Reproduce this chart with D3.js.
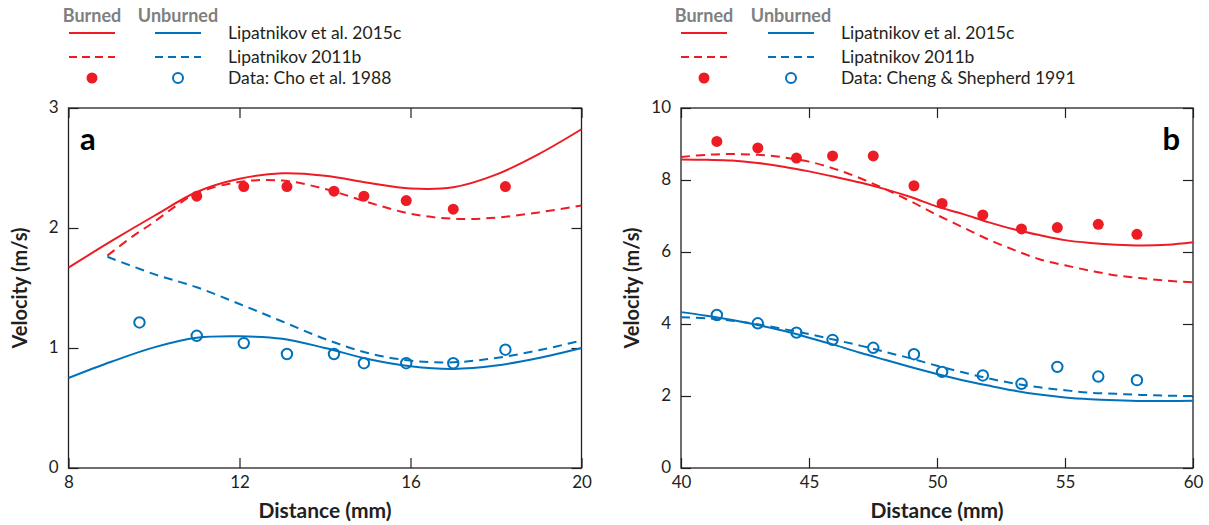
<!DOCTYPE html>
<html>
<head>
<meta charset="utf-8">
<script src="https://cdn.jsdelivr.net/npm/d3@7"></script>
<style>
  body { margin: 0; background: #fff; }
  text { font-family: Lato, "Open Sans", sans-serif; }
</style>
</head>
<body>
<svg id="chart" width="1209" height="525"></svg>
<script>
// ---- panel a: Cho et al. 1988 ----
const aCurveX = [8, 9, 10, 11, 12, 13, 14, 15, 16, 17, 18, 19, 20];
const aBurned2015 = [1.67, 1.89, 2.10, 2.30, 2.41, 2.456, 2.436, 2.378, 2.33, 2.34, 2.445, 2.616, 2.823];
const aUnburned2015 = [0.75, 0.885, 1.005, 1.085, 1.097, 1.077, 1.0, 0.909, 0.848, 0.826, 0.854, 0.917, 1.0];
const aBurned2011X = [8.91, 9.5, 10, 10.5, 11, 12, 13, 14, 15, 16, 17, 18, 19, 20];
const aBurned2011 = [1.77, 1.93, 2.05, 2.18, 2.29, 2.384, 2.395, 2.326, 2.215, 2.119, 2.077, 2.086, 2.13, 2.188];
const aUnburned2011X = [8.91, 10, 11, 12, 13, 14, 15, 16, 17, 18, 19, 20];
const aUnburned2011 = [1.76, 1.616, 1.506, 1.367, 1.221, 1.075, 0.958, 0.895, 0.881, 0.917, 0.981, 1.063];
const aBurnedDataX = [11.0, 12.1, 13.11, 14.21, 14.91, 15.9, 17.0, 18.22];
const aBurnedData = [2.265, 2.345, 2.345, 2.307, 2.265, 2.229, 2.157, 2.345];
const aUnburnedDataX = [9.66, 11.0, 12.1, 13.11, 14.21, 14.91, 15.9, 17.0, 18.22];
const aUnburnedData = [1.213, 1.102, 1.041, 0.95, 0.95, 0.873, 0.873, 0.873, 0.986];
const aXTicks = [8, 12, 16, 20];
const aYTicks = [0, 1, 2, 3];

// ---- panel b: Cheng & Shepherd 1991 ----
const bCurveX = [40, 41, 42, 43, 44, 45, 46, 47, 48, 49, 50, 51, 52, 53, 54, 55, 56, 57, 58, 59, 60];
const bBurned2015 = [8.57, 8.56, 8.54, 8.47, 8.37, 8.24, 8.09, 7.93, 7.74, 7.52, 7.26, 7.06, 6.83, 6.63, 6.47, 6.33, 6.25, 6.20, 6.18, 6.20, 6.27];
const bBurned2011 = [8.64, 8.70, 8.72, 8.70, 8.63, 8.51, 8.31, 8.05, 7.74, 7.40, 7.03, 6.69, 6.35, 6.06, 5.80, 5.63, 5.48, 5.35, 5.27, 5.20, 5.16];
const bUnburned2015 = [4.33, 4.23, 4.11, 3.97, 3.81, 3.62, 3.42, 3.20, 3.00, 2.80, 2.61, 2.44, 2.29, 2.15, 2.04, 1.96, 1.91, 1.88, 1.86, 1.86, 1.87];
const bUnburned2011 = [4.19, 4.16, 4.09, 3.99, 3.86, 3.72, 3.56, 3.40, 3.22, 3.04, 2.84, 2.66, 2.49, 2.35, 2.24, 2.16, 2.09, 2.06, 2.03, 2.01, 2.00];
const bDataX = [41.4, 43.0, 44.51, 45.92, 47.51, 49.1, 50.2, 51.79, 53.3, 54.7, 56.3, 57.81];
const bBurnedData = [9.07, 8.89, 8.61, 8.67, 8.67, 7.84, 7.35, 7.03, 6.64, 6.68, 6.77, 6.49];
const bUnburnedData = [4.25, 4.02, 3.76, 3.56, 3.34, 3.16, 2.67, 2.57, 2.34, 2.81, 2.54, 2.44];
const bXTicks = [40, 45, 50, 55, 60];
const bYTicks = [0, 2, 4, 6, 8, 10];

const legendLabels = ["Lipatnikov et al. 2015c", "Lipatnikov 2011b"];

const red = "#ed1c24", blue = "#0072bc", ink = "#231f20";
const svg = d3.select("#chart");

function zip(xs, ys) { return xs.map((x, i) => ({ x, y: ys[i] })); }

function drawPanel(p) {
  const x = d3.scaleLinear().domain(p.xDomain).range([p.left, p.right]);
  const y = d3.scaleLinear().domain(p.yDomain).range([468, 108]);
  const g = svg.append("g");

  // legend
  const lg = g.append("g");
  lg.append("text").attr("x", p.leg.burned).attr("y", 22).attr("text-anchor", "middle")
    .attr("font-weight", "bold").attr("font-size", 18).attr("fill", "#808080").text("Burned");
  lg.append("text").attr("x", p.leg.unburned).attr("y", 22).attr("text-anchor", "middle")
    .attr("font-weight", "bold").attr("font-size", 18).attr("fill", "#808080").text("Unburned");
  [33, 57].forEach((ly, i) => {
    [[p.leg.burned, red], [p.leg.unburned, blue]].forEach(([cx, c]) => {
      lg.append("line").attr("x1", cx - 23).attr("x2", cx + 23).attr("y1", ly).attr("y2", ly)
        .attr("stroke", c).attr("stroke-width", 2)
        .attr("stroke-dasharray", i === 1 ? "8,5" : null);
    });
    lg.append("text").attr("x", p.leg.text).attr("y", ly + 6).attr("font-size", 17.5)
      .attr("fill", ink).text(legendLabels[i]);
  });
  lg.append("circle").attr("cx", p.leg.burned).attr("cy", 78).attr("r", 5.5).attr("fill", red);
  lg.append("circle").attr("cx", p.leg.unburned).attr("cy", 78).attr("r", 5)
    .attr("fill", "none").attr("stroke", blue).attr("stroke-width", 2);
  lg.append("text").attr("x", p.leg.text).attr("y", 84).attr("font-size", 17.5)
    .attr("fill", ink).text(p.dataLabel);

  // axes with inward ticks on all four sides
  const fmt = d3.format("d");
  const bottom = g.append("g").attr("transform", "translate(0,468)")
    .call(d3.axisBottom(x).tickValues(p.xTicks).tickFormat(fmt).tickSizeInner(-10).tickSizeOuter(0).tickPadding(5));
  g.append("g").attr("transform", "translate(0,108)")
    .call(d3.axisTop(x).tickValues(p.xTicks).tickSizeInner(-10).tickSizeOuter(0).tickFormat(""));
  const leftAx = g.append("g").attr("transform", `translate(${p.left},0)`)
    .call(d3.axisLeft(y).tickValues(p.yTicks).tickFormat(fmt).tickSizeInner(-10).tickSizeOuter(0).tickPadding(10));
  g.append("g").attr("transform", `translate(${p.right},0)`)
    .call(d3.axisRight(y).tickValues(p.yTicks).tickSizeInner(-10).tickSizeOuter(0).tickFormat(""));
  g.selectAll(".domain").remove();
  g.selectAll(".tick line").attr("stroke", ink).attr("stroke-width", 1.2);
  g.selectAll(".tick text").attr("font-family", "Lato, 'Open Sans', sans-serif")
    .attr("font-size", 17).attr("fill", ink);
  bottom.selectAll(".tick text").attr("dy", "0.9em");
  leftAx.selectAll(".tick text").attr("dy", "0.25em");

  g.append("rect").attr("x", p.left).attr("y", 108)
    .attr("width", p.right - p.left).attr("height", 360)
    .attr("fill", "none").attr("stroke", ink).attr("stroke-width", 1.3);

  // axis titles
  g.append("text").attr("x", (p.left + p.right) / 2).attr("y", 518).attr("text-anchor", "middle")
    .attr("font-weight", "bold").attr("font-size", 21).attr("fill", ink).text("Distance (mm)");
  g.append("text").attr("transform", `translate(${p.left - 42},288) rotate(-90)`)
    .attr("text-anchor", "middle").attr("font-weight", "bold").attr("font-size", 20)
    .attr("fill", ink).text("Velocity (m/s)");

  // panel letter
  g.append("text").attr("x", p.letterX).attr("y", 150).attr("text-anchor", p.letterAnchor)
    .attr("font-weight", "bold").attr("font-size", 31).attr("fill", "#000").text(p.letter);

  // curves
  const line = d3.line().x(d => x(d.x)).y(d => y(d.y)).curve(d3.curveCatmullRom.alpha(0.5));
  p.curves.forEach(c => {
    g.append("path").datum(c.data).attr("d", line).attr("fill", "none")
      .attr("stroke", c.color).attr("stroke-width", 2)
      .attr("stroke-dasharray", c.dashed ? "9,6" : null);
  });

  // data points
  g.append("g").selectAll("circle").data(p.burnedPts).join("circle")
    .attr("cx", d => x(d.x)).attr("cy", d => y(d.y)).attr("r", 5.5).attr("fill", red);
  g.append("g").selectAll("circle").data(p.unburnedPts).join("circle")
    .attr("cx", d => x(d.x)).attr("cy", d => y(d.y)).attr("r", 5.2)
    .attr("fill", "none").attr("stroke", blue).attr("stroke-width", 2);
}

drawPanel({
  left: 68.5, right: 581.5, xDomain: [8, 20], yDomain: [0, 3],
  xTicks: aXTicks, yTicks: aYTicks,
  leg: { burned: 92, unburned: 178, text: 228 },
  dataLabel: "Data: Cho et al. 1988",
  letter: "a", letterX: 80, letterAnchor: "start",
  curves: [
    { data: zip(aCurveX, aBurned2015), color: red },
    { data: zip(aBurned2011X, aBurned2011), color: red, dashed: true },
    { data: zip(aCurveX, aUnburned2015), color: blue },
    { data: zip(aUnburned2011X, aUnburned2011), color: blue, dashed: true }
  ],
  burnedPts: zip(aBurnedDataX, aBurnedData),
  unburnedPts: zip(aUnburnedDataX, aUnburnedData)
});

drawPanel({
  left: 681, right: 1193, xDomain: [40, 60], yDomain: [0, 10],
  xTicks: bXTicks, yTicks: bYTicks,
  leg: { burned: 704, unburned: 791, text: 841 },
  dataLabel: "Data: Cheng & Shepherd 1991",
  letter: "b", letterX: 1180, letterAnchor: "end",
  curves: [
    { data: zip(bCurveX, bBurned2015), color: red },
    { data: zip(bCurveX, bBurned2011), color: red, dashed: true },
    { data: zip(bCurveX, bUnburned2015), color: blue },
    { data: zip(bCurveX, bUnburned2011), color: blue, dashed: true }
  ],
  burnedPts: zip(bDataX, bBurnedData),
  unburnedPts: zip(bDataX, bUnburnedData)
});
</script>
</body>
</html>
